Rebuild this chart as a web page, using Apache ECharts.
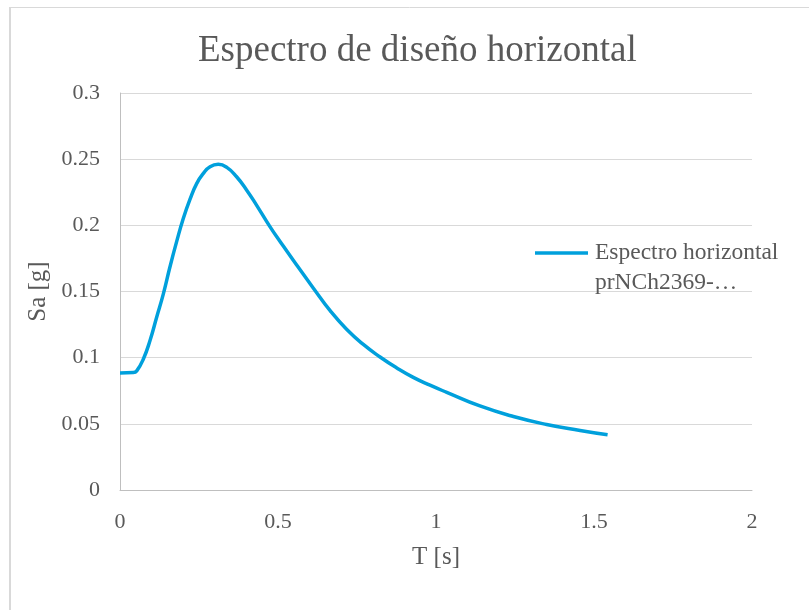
<!DOCTYPE html>
<html><head><meta charset="utf-8">
<script src="https://cdn.jsdelivr.net/npm/echarts@6/dist/echarts.min.js"></script>
<style>html,body{margin:0;padding:0;background:#fff}#c{width:809px;height:610px}</style>
</head><body><div id="c"></div>
<script>
const titleText = 'Espectro de diseño horizontal';
const seriesName = 'Espectro horizontal prNCh2369-…';
const xTicks = [0, 0.5, 1, 1.5, 2];
const yTicks = [0, 0.05, 0.1, 0.15, 0.2, 0.25, 0.3];
const periodT = [0, 0.042, 0.053, 0.074, 0.095, 0.116, 0.137, 0.158, 0.179, 0.2, 0.222, 0.243, 0.264, 0.285, 0.311, 0.338, 0.369, 0.401, 0.432, 0.475, 0.506, 0.559, 0.612, 0.665, 0.717, 0.770, 0.823, 0.876, 0.928, 0.981, 1.034, 1.139, 1.245, 1.35, 1.456, 1.543];
const accelSa = [0.0884, 0.0887, 0.0900, 0.0990, 0.1130, 0.1306, 0.1480, 0.1685, 0.1875, 0.2050, 0.2200, 0.2317, 0.2393, 0.2443, 0.2461, 0.2438, 0.2367, 0.2266, 0.2153, 0.1988, 0.1880, 0.1700, 0.1525, 0.1355, 0.1215, 0.1100, 0.1005, 0.0922, 0.0851, 0.0792, 0.0738, 0.0635, 0.0555, 0.0495, 0.0450, 0.0417];

const font = 'Liberation Serif, Times New Roman, serif';
const chart = echarts.init(document.getElementById('c'), null, {renderer: 'canvas'});
chart.setOption({
  animation: false,
  backgroundColor: '#fff',
  graphic: [
    {type: 'line', shape: {x1: 10, y1: 7.5, x2: 809, y2: 7.5}, style: {stroke: '#d9d9d9', lineWidth: 1}},
    {type: 'line', shape: {x1: 10, y1: 7, x2: 10, y2: 610}, style: {stroke: '#d9d9d9', lineWidth: 2}}
  ],
  title: {
    text: titleText, left: 193, top: 28,
    textStyle: {fontFamily: font, fontSize: 37, fontWeight: 'normal', color: '#595959'}
  },
  legend: {
    left: 530, top: 203, orient: 'vertical',
    itemWidth: 53, itemHeight: 3.5,
    icon: 'rect',
    formatter: () => ' \nEspectro horizontal\nprNCh2369-…',
    textStyle: {fontFamily: font, fontSize: 23.5, color: '#595959', lineHeight: 30, padding: [0, 0, 0, 2]},
    data: [seriesName]
  },
  grid: {left: 120, right: 57, top: 93, bottom: 120, containLabel: false},
  xAxis: {
    type: 'value', min: 0, max: 2, interval: 0.5,
    name: 'T [s]', nameLocation: 'middle', nameGap: 55,
    nameTextStyle: {fontFamily: font, fontSize: 25, color: '#595959'},
    axisLine: {show: true, lineStyle: {color: '#bfbfbf', width: 1}},
    axisTick: {show: false},
    splitLine: {show: false},
    axisLabel: {fontFamily: font, fontSize: 22, color: '#595959', margin: 21,
      formatter: v => String(xTicks.find(t => Math.abs(t - v) < 1e-9) ?? v)}
  },
  yAxis: {
    type: 'value', min: 0, max: 0.3, interval: 0.05,
    name: 'Sa [g]', nameLocation: 'middle', nameGap: 69,
    nameTextStyle: {fontFamily: font, fontSize: 25, color: '#595959'},
    axisLine: {show: true, lineStyle: {color: '#bfbfbf', width: 1}},
    axisTick: {show: false},
    splitLine: {show: true, lineStyle: {color: '#d9d9d9', width: 1}},
    axisLabel: {fontFamily: font, fontSize: 22, color: '#595959', margin: 20,
      formatter: v => String(yTicks.find(t => Math.abs(t - v) < 1e-9) ?? v)}
  },
  series: [{
    name: seriesName, type: 'line', smooth: 0.5, showSymbol: false,
    lineStyle: {color: '#00a0dc', width: 3.5},
    itemStyle: {color: '#00a0dc'},
    data: periodT.map((t, i) => [t, accelSa[i]])
  }]
});
</script></body></html>
